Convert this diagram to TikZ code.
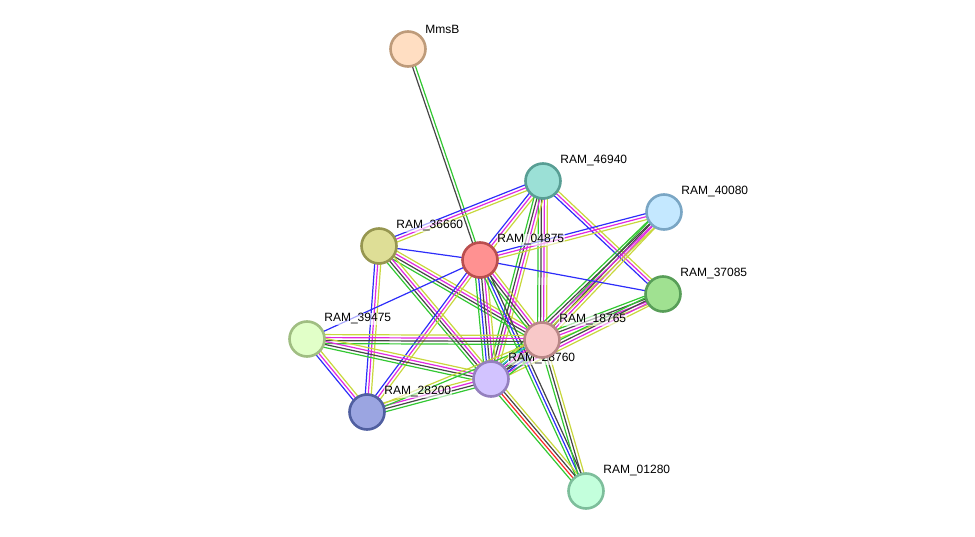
\documentclass[tikz,border=0pt]{standalone}
\usepackage{fontspec}
\setmainfont{Liberation Sans}
\usetikzlibrary{calc,backgrounds}

% evidence channel colours
\definecolor{nbhgreen}{RGB}{50,200,50}
\definecolor{fusred}{RGB}{250,40,40}
\definecolor{coocblue}{RGB}{45,45,250}
\definecolor{coexpgray}{RGB}{70,70,70}
\definecolor{exptmag}{RGB}{225,40,225}
\definecolor{dbcyan}{RGB}{40,195,215}
\definecolor{txtyellow}{RGB}{200,215,60}

% one line per evidence channel, side by side
\newcommand{\evidence}[3]{%
  \foreach \ev [count=\k] in {#3} {\xdef\nev{\k}}%
  \foreach \ev [count=\k] in {#3} {%
    \pgfmathsetmacro{\off}{(\k-(\nev+1)/2)*3}%
    \draw[\ev] ($(#1.center)!\off pt!90:(#2.center)$) --
               ($(#2.center)!\off pt!-90:(#1.center)$);
  }%
}

\begin{document}
\begin{tikzpicture}[x=1pt, y=-1pt,
  protein/.style={circle, minimum size=35pt, inner sep=0pt, line width=2.6pt},
  lbl/.style={font=\fontsize{12}{14}\selectfont, fill=white, fill opacity=0.6,
              text opacity=1, inner sep=0.5pt, xshift=2pt, yshift=-0.5pt},
  every label/.style={lbl},
  label distance=2pt,
  nbh/.style={draw=nbhgreen, line width=1.2pt},
  fus/.style={draw=fusred, line width=1.2pt},
  cooc/.style={draw=coocblue, line width=1.2pt},
  coexp/.style={draw=coexpgray, line width=1.2pt},
  expt/.style={draw=exptmag, line width=1.2pt},
  dbase/.style={draw=dbcyan, line width=1.2pt},
  txt/.style={draw=txtyellow, line width=1.2pt}]

\useasboundingbox (0,0) rectangle (975,537);

% =====================================================================
% Proteins (pixel positions of the network view)
% =====================================================================
\node[protein, fill={rgb,255:red,255;green,222;blue,194}, draw={rgb,255:red,190;green,155;blue,122},
      label=45:MmsB] (mmsb) at (408,49) {};
\node[protein, fill={rgb,255:red,155;green,224;blue,214}, draw={rgb,255:red,88;green,158;blue,148},
      label=45:RAM\_46940] (r46940) at (543,181) {};
\node[protein, fill={rgb,255:red,196;green,232;blue,255}, draw={rgb,255:red,122;green,166;blue,196},
      label=45:RAM\_40080] (r40080) at (664,212) {};
\node[protein, fill={rgb,255:red,222;green,222;blue,150}, draw={rgb,255:red,150;green,150;blue,80},
      label=45:RAM\_36660] (r36660) at (379,246) {};
\node[protein, fill={rgb,255:red,255;green,145;blue,145}, draw={rgb,255:red,186;green,78;blue,78},
      label=45:RAM\_04875] (r04875) at (480,260) {};
\node[protein, fill={rgb,255:red,160;green,225;blue,145}, draw={rgb,255:red,88;green,158;blue,88},
      label=45:RAM\_37085] (r37085) at (663,294) {};
\node[protein, fill={rgb,255:red,225;green,255;blue,200}, draw={rgb,255:red,160;green,190;blue,130},
      label=45:RAM\_39475] (r39475) at (307,339) {};
\node[protein, fill={rgb,255:red,210;green,195;blue,255}, draw={rgb,255:red,148;green,128;blue,190},
      label=45:RAM\_28760] (r28760) at (491,379) {};
\node[protein, fill={rgb,255:red,248;green,200;blue,200}, draw={rgb,255:red,185;green,135;blue,135},
      label=45:RAM\_18765] (r18765) at (542,340) {};
\node[protein, fill={rgb,255:red,155;green,165;blue,225}, draw={rgb,255:red,80;green,95;blue,160},
      label=45:RAM\_28200] (r28200) at (367,412) {};
\node[protein, fill={rgb,255:red,195;green,255;blue,220}, draw={rgb,255:red,125;green,190;blue,155},
      label=45:RAM\_01280] (r01280) at (586,491) {};

% =====================================================================
% Associations, behind the proteins
% =====================================================================
\begin{scope}[on background layer]
\evidence{mmsb}{r04875}{coexp,nbh}
\evidence{r46940}{r36660}{cooc,expt,txt}
\evidence{r46940}{r04875}{cooc,expt,txt}
\evidence{r46940}{r18765}{nbh,coexp,expt,txt}
\evidence{r46940}{r28760}{nbh,coexp,expt,txt}
\evidence{r46940}{r37085}{cooc,expt,txt}
\evidence{r40080}{r04875}{cooc,expt,txt}
\evidence{r40080}{r18765}{nbh,coexp,expt,txt}
\evidence{r40080}{r28760}{nbh,coexp,expt,txt}
\evidence{r37085}{r04875}{cooc}
\evidence{r37085}{r18765}{nbh,coexp,expt,txt}
\evidence{r37085}{r28760}{nbh,coexp,expt,txt}
\evidence{r36660}{r04875}{cooc}
\evidence{r36660}{r18765}{nbh,coexp,expt,txt}
\evidence{r36660}{r28760}{nbh,coexp,expt,txt}
\evidence{r36660}{r28200}{cooc,expt,txt}
\evidence{r04875}{r39475}{cooc}
\evidence{r04875}{r28200}{cooc,expt,txt}
\evidence{r04875}{r18765}{nbh,coexp,expt,txt}
\evidence{r04875}{r28760}{nbh,cooc,coexp,expt,txt}
\evidence{r04875}{r01280}{nbh,cooc,coexp}
\evidence{r39475}{r18765}{nbh,coexp,expt,txt}
\evidence{r39475}{r28760}{nbh,coexp,expt,txt}
\evidence{r39475}{r28200}{cooc,expt,txt}
\evidence{r28200}{r28760}{nbh,coexp,expt,txt}
\evidence{r28200}{r18765}{nbh,txt}
\evidence{r28760}{r18765}{nbh,cooc,coexp,expt,dbase,txt}
\evidence{r28760}{r01280}{nbh,fus,coexp,txt}
\evidence{r18765}{r01280}{nbh,coexp,txt}
\end{scope}

\end{tikzpicture}
\end{document}
